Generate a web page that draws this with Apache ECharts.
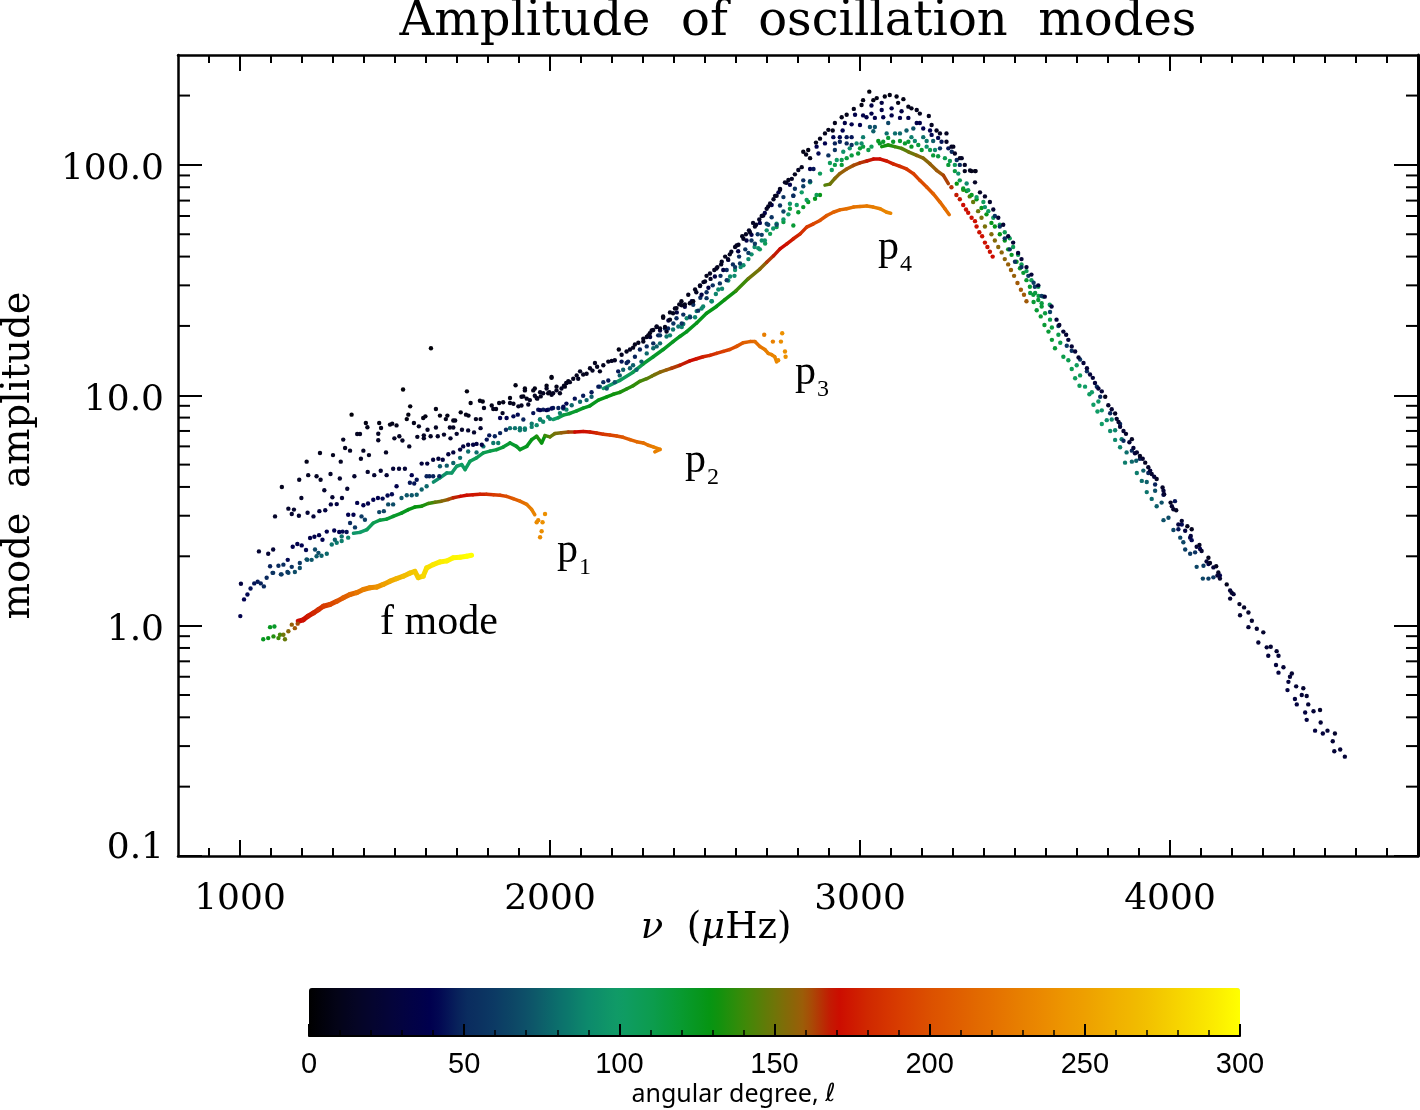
<!DOCTYPE html>
<html><head><meta charset="utf-8">
<style>html,body{margin:0;padding:0;background:#fff}#c{width:1420px;height:1110px}</style>
<script src="https://cdn.jsdelivr.net/npm/echarts@6/dist/echarts.min.js"></script>
</head><body><div id="c"></div>
<script>
// every point is [frequency in microHz, mode amplitude, angular degree]
const xTickLabels=[1000,2000,3000,4000];
const xMinorTicks=[900,1100,1200,1300,1400,1500,1600,1700,1800,1900,2100,2200,2300,2400,2500,2600,2700,2800,2900,3100,3200,3300,3400,3500,3600,3700,3800,3900,4100,4200,4300,4400,4500,4600,4700];
const yTickLabels=[0.1,1,10,100];
const yMinorTicks=[0.2,0.3,0.4,0.5,0.6,0.7,0.8,0.9,2,3,4,5,6,7,8,9,20,30,40,50,60,70,80,90,200];
const degreeColors=['#000000','#04041a','#05052e','#030340','#00004f','#0a2a5e','#0c3a64','#0d5068','#0c6e6c','#0d8a6c','#109c66','#0c9c50','#089a30','#069410','#3c8a08','#6f7508','#a05a08','#cc0a00','#d02800','#d83c00','#dc5000','#e06000','#e47000','#e88000','#ec9000','#eea000','#f0b000','#f2c000','#f6d400','#fae800','#ffff00'];

const fModeDots=[[1075,.873,125],[1091,.883,128],[1097,.985,125],[1111,.992,122],[1108,.898,135],[1124,.883,140],[1129,.913,142],[1145,.873,148],[1140,.913,150],[1156,.945,155],[1167,1.01,158],[1177,.975,160],[1186,1.02,162]];
const fModeRidge=[[1188,1.045,168],[1204,1.06,170],[1220,1.10,172],[1237,1.135,176],[1253,1.174,180],[1269,1.214,185],[1290,1.235,190],[1312,1.275,196],[1333,1.32,202],[1355,1.365,210],[1376,1.39,216],[1398,1.435,224],[1419,1.46,230],[1441,1.47,236],[1462,1.51,242],[1484,1.56,250],[1505,1.60,256],[1527,1.64,262],[1548,1.69,268],[1564,1.72,272],[1575,1.615,274],[1591,1.64,276],[1602,1.78,282],[1623,1.84,286],[1645,1.89,290],[1667,1.91,292],[1688,1.97,294],[1710,1.98,296],[1731,2.00,298],[1747,2.02,300]];
const p1Dots=[[1107,1.695,60],[1134,1.67,62],[1156,1.695,65],[1177,1.71,68],[1193,1.78,68],[1217,1.93,72],[1231,1.93,72],[1247,2.00,74],[1263,2.01,76],[1280,2.05,78],[1296,2.25,82],[1312,2.29,84],[1328,2.33,86],[1349,2.41,88],[1957,2.81,236],[1962,2.87,236],[1984,3.05,240],[1976,2.81,240],[1973,2.57,238],[1968,2.42,236]];
const p1Ridge=[[1366,2.52,92],[1387,2.54,96],[1409,2.61,100],[1430,2.79,106],[1451,2.87,110],[1473,2.90,114],[1494,2.98,118],[1521,3.08,122],[1543,3.19,125],[1564,3.27,128],[1586,3.30,130],[1607,3.39,134],[1629,3.43,140],[1650,3.47,148],[1672,3.53,155],[1688,3.59,162],[1710,3.64,167],[1731,3.68,170],[1752,3.70,172],[1774,3.72,174],[1795,3.72,178],[1817,3.70,184],[1839,3.68,190],[1860,3.64,194],[1881,3.56,200],[1903,3.47,208],[1925,3.36,218],[1941,3.19,226],[1951,3.03,232]];
const p2Ridge=[[1624,4.2,90],[1645,4.38,92],[1667,4.6,94],[1683,4.6,96],[1699,4.92,98],[1715,5.0,100],[1726,4.76,102],[1742,5.17,104],[1763,5.35,106],[1785,5.62,108],[1806,5.72,110],[1828,5.81,112],[1849,5.96,116],[1871,6.21,118],[1892,6.0,120],[1903,5.81,122],[1925,6.0,124],[1941,6.42,126],[1957,6.64,128],[1973,6.21,134],[1984,6.68,130],[2000,6.6,140],[2016,6.82,148],[2037,6.87,152],[2059,6.92,158],[2080,6.92,163],[2107,6.97,170],[2129,6.92,172],[2150,6.86,176],[2172,6.77,182],[2193,6.72,188],[2215,6.66,194],[2236,6.57,200],[2258,6.42,206],[2279,6.29,212],[2301,6.21,216],[2317,6.07,220],[2333,5.97,224],[2355,5.82,230],[2338,5.68,230]];
const p3Ridge=[[2010,7.85,95],[2027,8.0,100],[2043,8.2,110],[2064,8.34,115],[2086,8.55,120],[2107,8.8,122],[2129,9.0,124],[2156,9.53,126],[2183,9.85,128],[2204,10.1,130],[2225,10.3,132],[2247,10.65,134],[2268,11.0,136],[2290,11.5,138],[2312,11.8,142],[2328,12.1,146],[2338,12.3,150],[2355,12.6,152],[2376,12.9,156],[2392,13.1,160],[2419,13.5,164],[2451,14.1,168],[2473,14.4,170],[2494,14.7,174],[2516,14.9,178],[2537,15.2,182],[2559,15.5,188],[2580,15.8,192],[2602,16.3,198],[2623,16.9,204],[2645,17.1,210],[2661,17.1,214],[2677,16.3,220],[2693,15.8,224],[2704,15.2,228],[2715,15.0,230],[2725,14.7,232],[2731,13.95,234]];
const p3Dots=[[2736,14.2,236],[2758,15.5,240],[2760,14.7,240],[2745,17.1,238],[2749,18.6,240],[2719,17.1,230],[2691,18.3,228]];
const p4Ridge=[[2172,10.7,95],[2225,11.6,100],[2268,12.6,105],[2301,13.7,110],[2333,14.7,118],[2365,15.8,122],[2397,17.1,124],[2419,18.0,125],[2441,18.9,126],[2473,20.6,126],[2505,22.7,127],[2537,24.3,128],[2564,26.0,128],[2600,28.4,132],[2640,32.1,140],[2677,35.3,150],[2699,37.8,156],[2721,40.3,164],[2742,43.2,168],[2764,45.4,170],[2785,47.8,174],[2807,50.2,178],[2828,53.7,184],[2850,55.5,190],[2871,57.4,196],[2893,60.3,202],[2914,62.3,208],[2935,63.8,212],[2957,64.5,216],[2979,65.6,220],[3000,66,222],[3022,66.3,224],[3043,65.6,226],[3065,64.5,228],[3086,62.3,232],[3099,61.7,234]];
const p5Dots=[[2677,43,105],[2694,45.6,108],[2710,50.2,110],[2731,53.7,112],[2753,56.5,114],[2774,64.5,116],[2801,62.3,120],[2817,65.6,122],[2833,69,124],[2855,71.3,126],[2871,74,128],[2785,54.6,118]];
const p5Ridge=[[2887,81.7,140],[2903,82.5,145],[2919,87.4,150],[2935,91.7,155],[2957,96,158],[2979,99.5,160],[3000,102,162],[3022,104,165],[3043,106,168],[3065,106,170],[3086,104,172],[3107,101,176],[3129,98.5,180],[3150,96,184],[3172,91.7,188],[3193,85.7,192],[3215,80.2,198],[3236,75,204],[3258,69,212],[3274,64.5,216],[3288,60.8,220]];
const p6Ridge=[[3070,120,130],[3091,122,132],[3112,120,135],[3134,118,140],[3156,114,145],[3183,110,150],[3204,107,155],[3226,101,155],[3247,94.7,158],[3269,90,160],[3285,83,163]];
const p6Dots=[[3295,80,165],[3311,74,168],[3322,71,168],[3333,67,170],[3342,64,172],[3349,62,172],[3360,59,172],[3371,57,172],[3376,54,172],[3385,51,172],[3394,49,172],[3403,46,172],[3411,44,172],[3419,42,172],[3428,40,170]];
const p7Dots=[[3312,82.9,130],[3333,78,138],[3354,73,145],[3365,69,148],[3381,63,150],[3392,59,152],[3403,54,152],[3424,50,154],[3435,47,154],[3446,44,155],[3457,41.7,156],[3467,39,156],[3478,37,158],[3487,35,158],[3497,33,158],[3508,30.7,160],[3519,28.7,160],[3529,27.3,160],[3537,25.6,160]];
const p8Dots=[[3333,79,122],[3344,77,124],[3360,74,124],[3376,71,126],[3392,65,126],[3408,61,128],[3424,56,128],[3435,54,128],[3451,50,128],[3467,47,126],[3478,43,126],[3489,40.7,124],[3505,38,122],[3516,35.6,122],[3527,34,120],[3537,31.6,120],[3548,29.6,120],[3559,27.3,118],[3575,25.9,118],[3586,24.3,118]];
const p9Dots=[[3398,69,105],[3414,63,105],[3430,59,105],[3451,55,108],[3467,51,108],[3483,48,108],[3494,44,108],[3510,40.7,108],[3521,37,108],[3537,34.6,108],[3553,31.6,108],[3575,29.6,108],[3591,26.8,105],[3612,24.7,105]];

const midTeal=[[2387,18.2,88],[2425,19.8,88],[2441,21.6,88],[2468,21.8,88],[2489,23.8,90],[2522,25.6,90],[2543,28.8,90],[2581,32.8,90],[2597,35,92],[2624,36.7,92],[2650,40.9,92],[2672,43.5,92],[2693,47,95],[2720,53,95],[2753,58,98],[2769,61,100],[2796,67,100],[2828,70.5,105],[2860,74,108]];
const tealBand=[[1903,7.05,85],[1919,7.17,88],[1941,7.29,88],[1957,7.42,90],[1978,7.68,90],[1994,8.06,88],[1968,7.85,80],[2097,9.37,78],[2118,9.53,78],[2161,10.9,72],[2183,10.7,74],[2209,11.4,72],[2236,12.9,75],[2258,13.1,75],[2279,12.9,78],[2312,15.2,78],[2333,16.0,78],[2355,16.8,80],[2376,18,82],[2397,19.3,82],[2430,20.4,85],[2451,22,85],[2473,23.2,85],[2494,24.3,88],[2521,25.6,88],[2043,8.76,78],[2070,9.05,78],[2134,9.85,75],[2225,12.2,75],[2268,13.5,75],[2295,14,75],[2344,16.3,75],[2414,19.9,82],[2535,27.5,88],[2555,29,88],[2575,31.5,90],[2595,33,90],[2615,36,90],[2640,39,90],[2660,44,92],[2683,47,92]];
const peakGreen=[[3059,127,125],[3064,124,122],[3075,126,122],[3091,131,118],[3107,126,122],[3129,127,120],[3145,124,122],[3156,126,118],[3166,120,122],[3188,122,115],[3199,116,120],[3226,116,112],[3236,110,118],[3252,109,115],[3274,107,110],[3290,104,110],[3306,100,105],[3285,100,118],[3306,94,115],[3000,118,118],[3010,120,115],[2994,112,118],[3027,116,112],[3037,120,108],[2973,110,115],[2957,107,115],[2941,105,110],[2941,100,118],[2919,100,112],[2903,102,105],[3317,91.7,95],[3344,83,90],[2909,95,105],[2871,91.7,105],[2839,84,100],[2812,76,100],[2774,67.8,95],[2731,55.5,95],[2699,52,95],[3322,85.7,110],[3349,77.7,105],[3376,72.5,100],[3403,65.6,95]];
const peakTeal=[[3032,146,70],[3048,146,70],[3043,140,75],[3091,152,65],[3086,137,80],[3113,137,80],[3129,137,78],[3150,141,75],[3172,144,70],[3166,132,85],[3177,127,90],[3204,132,80],[3215,127,85],[3236,127,75],[3215,120,95],[3242,116,90],[3010,132,85],[2989,124,90],[3005,124,90],[2967,118,92],[2946,114,95],[2925,105,100]];
const tailGreen=[[3549,27.8,115],[3565,27.8,115],[3560,25.4,118],[3576,27,115],[3570,23.4,118],[3586,25.1,115],[3583,22,118],[3597,22.7,115],[3595,20.2,118],[3613,21.3,112],[3608,18.9,118],[3619,19.7,115],[3619,17.4,118],[3640,18.3,112],[3629,16,118],[3646,16.9,112],[3656,14.7,112],[3672,14.2,110],[3683,13,108],[3699,13.5,105],[3694,11.85,105],[3710,12.2,105],[3708,11,105],[3726,10.9,100],[3740,10.1,102],[3748,10.3,100],[3753,9.1,100],[3769,9.4,98],[3766,8.5,100],[3780,8.6,95],[3780,7.5,100],[3796,7.8,92],[3812,7.85,90],[3807,7.0,92],[3823,7.05,88],[3823,6.4,90],[3844,6.45,85],[3839,5.95,88],[3860,5.65,80],[3855,5.1,85],[3877,5.15,78],[3891,5.2,75],[3893,4.6,85],[3914,4.71,75],[3909,4.25,80],[3925,4.2,75],[3925,3.8,82],[3952,3.85,70],[3941,3.55,78],[3957,3.3,75],[3973,3.42,70],[3979,2.87,70],[3995,2.94,68],[4011,2.6,65],[4033,2.41,65],[4043,2.3,65],[4049,2.14,62],[4065,2.05,60],[4081,2.08,55],[4086,1.8,65],[4108,1.82,60],[4106,1.6,65],[4124,1.6,62],[4140,1.62,58]];

const blueLow=[[1001,1.1,38],[1013,1.30,40],[1003,1.52,30],[1024,1.365,42],[1034,1.45,44],[1046,1.525,45],[1057,1.55,46],[1067,1.525,48],[1077,1.48,50],[1086,1.615,50],[1097,1.81,48],[1105,1.695,55],[1124,1.82,52],[1140,1.84,52],[1132,1.67,58],[1154,1.93,42],[1167,1.80,55],[1153,1.71,60],[1193,1.87,58],[1170,2.2,38],[1185,2.26,38],[1199,2.23,40],[1213,2.13,42],[1226,2.40,36],[1240,2.43,36],[1255,2.47,38],[1266,2.36,40],[1280,2.56,38],[1304,2.59,40],[1320,2.55,40],[1331,2.56,42],[1344,2.55,44],[1242,2.14,66],[1253,2.07,68],[1215,1.94,70],[1306,2.36,75],[1328,2.44,80],[1355,2.79,50],[1349,3.03,40],[1366,3.03,40],[1371,2.67,60],[1392,2.98,60],[1403,2.88,62],[1378,3.41,38],[1398,3.33,38],[1413,3.39,38],[1430,3.52,40],[1445,3.58,40],[1460,3.56,42],[1476,3.67,42],[1490,3.72,42],[1505,4.03,38],[1449,3.11,65],[1464,3.14,65],[1478,3.36,68],[1494,3.36,68],[1521,3.58,72],[1538,3.68,72],[1554,3.68,72],[1570,3.70,74],[1586,3.9,76],[1602,4.03,78],[1554,4.5,40],[1548,4.17,45],[1562,4.14,45],[1570,4.3,45],[1602,4.45,48],[1611,4.45,48],[1623,4.45,48],[1643,4.45,50],[1645,4.92,72],[1667,4.95,74],[1688,5.08,76],[1710,5.35,78],[1736,5.7,80],[1763,5.65,80],[1785,6.0,82],[1817,6.21,84],[1833,6.21,86],[1871,7.2,80],[1887,7.2,82],[1903,7.2,82],[1919,7.09,84],[1941,7.53,84],[1968,7.85,86],[2000,7.9,86],[2032,8.37,86],[2053,8.66,88],[1796,6.42,45],[1804,6.7,45],[1822,6.64,48],[1839,6.85,48],[1858,7.09,50],[1839,7.97,40],[1860,7.97,40],[1882,8.10,42],[1896,8.24,42],[1914,7.85,48],[1946,8.37,44],[1962,8.66,44],[1978,8.66,46],[1994,8.66,46],[2010,8.8,46],[2027,8.8,48],[2043,8.8,48]];
const blueMid=[[1968,8.62,40],[1989,8.62,40],[2005,8.76,42],[2043,8.91,42],[2053,9.2,42],[2080,9.67,44],[2107,9.96,46],[2134,10.3,46],[2156,10.9,46],[2188,11.6,46],[2220,12.7,46],[2247,13.8,48],[2274,14.7,48],[2312,16.3,50],[2333,16.8,50],[2371,19.5,50],[2430,22.4,52],[2462,24.7,52],[2172,11.4,50],[2231,14,45],[2252,14,48],[2290,15.8,48],[2349,18.2,48],[2381,19.5,48],[2408,21.6,50],[2485,26.5,50],[2505,28,50],[2525,30,52],[2550,33,52],[2570,35,50],[2590,37,50],[2610,40,52],[2630,43,55],[2650,47,55],[2670,50,58],[2355,18.2,55],[2398,20.5,55],[2425,20.5,55],[2452,21.8,55],[2478,23.3,55],[2505,26.4,55],[2548,30.6,55],[2570,31.6,58],[2597,36,58],[2613,37.3,60],[2640,41.5,60],[2661,45.5,60],[2683,49.7,62],[2704,55,62],[2731,55,68],[2753,62.8,65],[2785,73.5,62],[2817,80.8,62],[2839,84.9,62],[2323,17.9,30],[2355,19.1,30],[2382,21.1,30],[2409,22.9,30],[2435,24.2,30],[2457,25.6,30],[2489,27.3,32],[2511,29.3,32],[2532,32.8,32],[2559,35,32],[2575,38.7,32],[2607,42.2,34],[2634,47,34],[2650,49.7,34],[2677,56,36],[2693,61.8,36],[2715,67,36],[2737,76,36],[2774,82,36]];
const peakBlue=[[3070,186,32],[3037,181,34],[3070,173,34],[3102,176,32],[3134,171,32],[3037,167,36],[3010,164,36],[3021,161,36],[3048,160,38],[3075,161,38],[3102,164,36],[3129,160,38],[3156,160,36],[3183,152,36],[3193,152,36],[3204,144,40],[3226,141,40],[3231,135,42],[3252,131,42],[3263,126,45],[3258,118,55],[3285,118,45],[2984,165,36],[2951,152,36],[2973,150,38],[3000,149,40],[2944,141,40],[2914,132,42],[2935,132,42],[2957,132,45],[2973,132,45],[2919,124,48],[2935,126,48],[2957,124,50],[2973,122,52],[2919,116,55],[3296,114,50],[3312,105,50],[3322,100,50],[2860,120,40],[2866,112,42],[2887,124,40],[2898,110,55],[2839,96,40],[2850,96,45],[2817,85.7,50],[2790,78.8,55],[2785,73.5,50],[2753,72.5,55],[2742,66.7,55],[2715,59.3,55],[2699,55.5,60],[3435,60,55],[3451,54,55],[3467,48,55],[3483,43,55],[3500,38,55],[3521,36,55],[3543,33,58],[3564,29.6,58]];
const tailBlue=[[3560,30.8,60],[3586,27,60],[3613,23,62],[3640,20,60],[3667,16.4,58],[3683,15.6,55],[3710,14.3,58],[3732,12.7,55],[3764,10.9,52],[3775,9.85,50],[3807,8.35,50],[3839,7.5,50],[3850,6.35,50],[3877,5.75,50],[3903,5.3,48],[3930,4.6,48],[3952,4.1,48],[3979,3.7,45],[4016,3.47,45],[4038,2.75,42],[4065,2.41,40],[4097,2.15,38],[4124,1.85,40],[4161,1.65,38],[4027,2.62,45],[4070,2.35,42]];

const darkLow=[[1616,16.0,3],[1526,10.6,4],[1360,8.24,4],[1732,10.4,6],[1889,11.05,8],[2005,12.0,8],[1549,8.95,6],[1543,8.24,6],[1538,7.88,6],[1632,8.72,8],[1406,7.58,8],[1411,7.26,10],[1449,7.58,8],[1455,7.21,10],[1484,7.46,10],[1491,7.53,10],[1505,7.40,10],[1561,7.58,10],[1577,7.33,12],[1591,7.97,8],[1598,8.10,8],[1645,8.16,8],[1669,8.16,8],[1664,7.88,10],[1688,7.77,10],[1694,7.77,12],[1712,8.43,8],[1729,8.24,10],[1737,8.16,10],[1761,7.88,12],[1776,7.88,12],[1744,9.26,8],[1774,9.47,8],[1783,9.40,8],[1787,8.80,12],[1812,9.03,10],[1817,8.72,12],[1826,8.72,12],[1836,9.26,10],[1849,9.33,10],[1847,8.37,15],[1871,9.73,8],[1871,9.26,12],[1882,9.19,12],[1898,8.95,14],[1908,9.03,14],[1914,9.89,10],[1919,10.7,8],[1930,9.12,16],[1951,10.7,8],[1957,9.73,10],[1970,9.89,12],[1989,11.0,8],[1994,10.2,10],[2005,10.05,12],[2021,10.9,10],[2032,10.2,12],[2048,10.9,10],[2053,11.3,10],[2059,11.5,10],[1333,6.42,15],[1378,6.79,15],[1387,6.79,15],[1446,6.81,15],[1446,6.38,15],[1498,6.5,15],[1514,6.64,15],[1524,6.36,15],[1546,6.0,15],[1572,6.6,15],[1593,6.7,15],[1593,6.5,15],[1605,7.09,15],[1615,6.64,15],[1632,7.25,15],[1638,6.64,18],[1658,6.75,18],[1677,7.25,15],[1688,7.25,15],[1679,6.5,20],[1699,6.8,20],[1716,7.09,18],[1736,7.04,20],[1755,6.9,20],[1776,7.2,20],[1258,5.62,12],[1215,5.15,10],[1300,5.5,12],[1325,5.15,15],[1339,5.9,12],[1355,5.75,15],[1398,5.75,15],[1390,5.3,15],[1416,5.5,15],[1471,5.65,15],[1135,4.0,12],[1191,4.3,15],[1220,4.5,15],[1247,4.45,15],[1260,4.3,15],[1292,4.55,18],[1322,4.35,20],[1369,4.45,20],[1412,4.65,20],[1433,4.5,22],[1454,4.7,22],[1473,4.5,24],[1494,4.8,25],[1513,4.8,25],[1532,4.8,25],[1586,5.05,28],[1604,5.05,28],[1623,5.25,28],[1640,5.3,28],[1654,5.25,30],[1672,5.55,30],[1688,5.65,30],[1710,5.81,30],[1720,6.0,30],[1736,6.1,32],[1752,6.1,32],[1763,6.15,32],[1780,6.1,34],[1272,3.87,20],[1346,3.93,22],[1198,3.58,18],[1298,3.61,22],[1329,3.58,24],[1156,3.22,20],[1174,3.19,20],[1167,3.05,20],[1190,3.0,22],[1218,3.09,24],[1237,2.98,26],[1256,3.14,28],[1275,3.17,30],[1293,3.36,30],[1312,3.37,32],[1113,2.98,18],[1061,2.1,22],[1091,2.05,24],[1107,2.14,24]];
const darkMid=[[1919,10.5,12],[1925,9.67,12],[1951,9.96,14],[1968,10.3,14],[1989,10.7,14],[2005,11.9,8],[2021,10.5,14],[2037,10.7,14],[2053,11.3,12],[2064,11.4,12],[2086,12.2,12],[2097,12.7,12],[2118,12.4,12],[2145,13.8,12],[2161,12.7,12],[2188,14.0,12],[2209,14.2,14],[2222,15.8,8],[2247,15.5,12],[2274,16.6,12],[2301,17.1,12],[2322,18.6,10],[2344,19.9,10],[2365,22,10],[2376,18.9,14],[2408,23.9,10],[2424,25.6,10],[2451,25.1,12],[2462,25.6,12],[1908,9.85,12],[1935,9.53,14],[1946,10.5,12],[1959,9.67,14],[1978,10.2,14],[1998,10.3,12],[2010,10.2,14],[2045,11,12],[2075,11.8,12],[2091,11.8,14],[2107,12.3,12],[2129,13.1,12],[2137,12.8,14],[2152,13.3,12],[2172,13.5,12],[2199,14.1,14],[2231,15,14],[2258,15.8,14],[2268,16.1,12],[2285,16.9,12],[2312,17.9,12],[2333,19.2,12],[2355,19.5,12],[2387,21.3,12],[2397,22.7,12],[2417,24.8,12],[2435,24.8,12],[2472,28,14],[2484,30,12],[2495,31,14],[2505,33,12],[2518,32,16],[2530,35,14],[2540,36,12],[2552,37,14],[2565,40,12],[2574,39,16],[2585,42,14],[2597,44,12],[2608,45,14],[2620,49,12],[2632,50,14],[2642,52,16],[2655,56,14],[2665,55,18],[2675,58,16],[2301,17.6,12],[2317,18.2,12],[2328,19.1,12],[2344,19.8,14],[2371,19.8,12],[2365,21.7,10],[2387,22.9,12],[2403,23.8,12],[2425,24.6,12],[2446,27.3,12],[2468,28.8,12],[2484,29.8,14],[2500,31.2,14],[2516,33.8,14],[2537,35.5,14],[2554,38,14],[2580,40.9,14],[2602,44.7,14],[2624,47.8,14],[2645,51,14],[2661,54,14],[2683,60,14],[2704,66,14],[2726,73.4,14],[2742,78.7,14],[2763,83.6,14]];
const peakDark=[[3030,208,5],[3010,191,8],[3005,182,8],[3043,191,8],[3054,195,8],[3080,198,8],[3096,201,8],[3118,198,8],[3123,186,10],[3140,193,8],[3156,179,10],[3166,176,10],[3183,173,12],[3193,167,12],[3222,163,12],[3231,149,14],[3247,141,14],[3258,137,14],[3279,126,16],[3279,137,14],[3295,120,16],[3306,112,16],[3328,107,16],[3338,100,16],[3355,94.5,14],[3373,94,10],[2980,175,10],[2957,165,10],[2941,161,10],[2919,152,10],[2912,141,10],[2898,142,10],[2871,130,10],[2833,116,8],[2817,114,8],[2839,107,10],[2812,97.8,12],[2801,95,14],[2780,87,14],[2758,84,14],[2731,73.5,14],[2721,71,16],[2699,64.5,16],[2688,60.3,18],[2887,137,10],[2858,125,10],[2826,111,10],[2790,91,12],[2769,86,12],[2742,78,14],[2710,68,16],[3301,120,14],[3322,107,16],[3338,94,12],[3360,94,10],[3371,84,16],[3371,94,10],[3387,76,18],[3403,73,18],[3419,69,20],[3430,64,22],[3446,59,24],[3462,55,24],[3478,49,25],[3494,46,25],[3510,41.5,25],[3521,39,25],[3537,36,25],[3553,33.4,26],[3575,30,28],[3596,26.8,28],[3618,24.3,28],[3634,21.3,28]];
const tailDark=[[3656,18.9,24],[3672,17.4,26],[3694,15.5,26],[3721,13.8,26],[3742,12.3,28],[3758,11.3,28],[3769,10.7,28],[3791,9.85,10],[3801,9.05,20],[3823,8.34,15],[3834,7.65,20],[3839,7.3,25],[3858,6.8,18],[3877,6.45,15],[3882,5.9,25],[3887,5.6,28],[3903,5.45,15],[3920,5.1,15],[3930,4.87,20],[3941,4.55,20],[3957,4.33,15],[3976,3.98,18],[3981,3.72,22],[4002,3.42,15],[4011,3.2,20],[4020,3.17,15],[4038,2.85,20],[4056,2.7,12],[4070,2.62,12],[4095,2.24,15],[4102,2.11,20],[4124,1.97,12],[4129,1.87,15],[4149,1.81,12],[4156,1.7,15],[4161,1.6,20],[4183,1.51,12],[4199,1.39,18],[4194,1.31,22],[4224,1.24,18],[4239,1.2,18],[4253,1.14,20],[4226,1.11,22],[4264,1.05,20],[4253,.985,25],[4280,.97,22],[4301,.935,20],[4285,.845,25],[4312,.805,25],[4325,.81,22],[4344,.775,22],[4350,.74,25],[4317,.74,28],[4366,.66,25],[4342,.675,28],[4393,.62,22],[4387,.60,25],[4350,.625,30],[4382,.57,28],[4407,.545,25],[4430,.535,22],[4379,.525,30],[4425,.50,25],[4441,.495,22],[4403,.48,30],[4409,.455,30],[4446,.455,25],[4484,.43,20],[4436,.42,30],[4463,.425,25],[4441,.39,30],[4486,.38,25],[4468,.35,30],[4493,.34,28],[4508,.35,25],[4532,.34,20],[4525,.315,25],[4530,.285,25],[4549,.29,25],[4564,.27,25],[3643,20.2,22],[3665,18.3,24],[3683,16.3,24],[3705,14.6,24],[3732,13.1,26],[3751,11.9,26],[3780,10.4,24],[3812,8.7,22],[3828,7.9,20],[3850,7,22],[3869,6.25,24],[3893,5.65,22],[3912,5.3,22],[3936,4.71,25],[3949,4.43,25],[3979,3.85,25],[4006,3.3,22],[4027,2.75,30],[4049,2.58,30],[4067,2.45,28],[4086,2.2,25],[4118,1.9,25],[4140,1.79,25],[4153,1.65,25],[4194,1.42,25],[4205,1.37,25]];

const dotSets=[p1Dots,p3Dots,p5Dots,p6Dots,p7Dots,p8Dots,p9Dots,fModeDots,tealBand,midTeal,peakGreen,peakTeal,tailGreen,blueLow,blueMid,peakBlue,tailBlue,darkLow,darkMid,peakDark,tailDark];
const ridgeSets=[[fModeRidge,5],[p1Ridge,3.5],[p2Ridge,3.5],[p3Ridge,3.5],[p4Ridge,3.5],[p5Ridge,3.5],[p6Ridge,3.5]];

const ridgeItem=w=>(params,api)=>{
  const i=params.dataIndexInside;
  if(i===0) return null;
  const a=api.coord([api.value(0,i-1),api.value(1,i-1)]);
  const b=api.coord([api.value(0,i),api.value(1,i)]);
  return {type:'line',shape:{x1:a[0],y1:a[1],x2:b[0],y2:b[1]},style:{stroke:api.visual('color'),lineWidth:w,lineCap:'round',fill:null}};
};
const tickLine=(x1,y1,x2,y2)=>({type:'line',shape:{x1,y1,x2,y2},style:{stroke:'#000',lineWidth:2,fill:null}});
const xTickItem=(params,api)=>{
  const v=api.value(0),b=api.coord([v,0.1]),t=api.coord([v,300]);
  return {type:'group',children:[tickLine(b[0],b[1],b[0],b[1]-8),tickLine(t[0],t[1],t[0],t[1]+8)]};
};
const yTickItem=(params,api)=>{
  const v=api.value(1),l=api.coord([800,v]),r=api.coord([4800,v]);
  return {type:'group',children:[tickLine(l[0],l[1],l[0]+12,l[1]),tickLine(r[0],r[1],r[0]-12,r[1])]};
};

const series=[];
ridgeSets.forEach(([d,w])=>series.push({type:'custom',renderItem:ridgeItem(w),data:d,encode:{x:0,y:1},clip:false,silent:true,z:3}));
dotSets.forEach(d=>series.push({type:'scatter',data:d,encode:{x:0,y:1},symbolSize:4.4,clip:false,silent:true,z:3,itemStyle:{opacity:1}}));
const coloured=series.map((_,i)=>i);
series.push({type:'custom',renderItem:xTickItem,data:xMinorTicks.map(v=>[v,1]),encode:{x:0,y:1},clip:false,silent:true,z:5});
series.push({type:'custom',renderItem:yTickItem,data:yMinorTicks.map(v=>[1000,v]),encode:{x:0,y:1},clip:false,silent:true,z:5});

const serif='"DejaVu Serif"';
const frameLine=w=>({show:true,onZero:false,lineStyle:{color:'#000',width:w}});
const majorX={show:true,inside:true,length:16,customValues:xTickLabels,lineStyle:{color:'#000',width:2}};
const majorY={show:true,inside:true,length:24,customValues:yTickLabels,lineStyle:{color:'#000',width:2}};
const subRich={a:{fontFamily:'"Liberation Serif"',fontSize:42,lineHeight:42,verticalAlign:'top'},s:{fontFamily:'"Liberation Serif"',fontSize:24,lineHeight:24,verticalAlign:'top',padding:[26,0,0,1]}};
const note=(text,x,y)=>({type:'text',x,y,silent:true,z:20,style:{text,rich:subRich,fill:'#000'}});

echarts.init(document.getElementById('c'),null,{renderer:'canvas',width:1420,height:1110}).setOption({
  animation:false,
  backgroundColor:'#fff',
  title:{text:'Amplitude  of  oscillation  modes',left:798,textAlign:'center',top:-1,padding:0,textStyle:{fontFamily:serif,fontSize:48,fontWeight:'normal',color:'#000'}},
  grid:[{left:178,top:55,width:1240,height:801,outerBoundsMode:'none'},{left:309,top:988,width:931,height:48,outerBoundsMode:'none'}],
  xAxis:[
    {type:'value',gridIndex:0,position:'bottom',min:800,max:4800,axisLine:frameLine(2.5),axisTick:majorX,splitLine:{show:false},
     axisLabel:{customValues:xTickLabels,margin:26,fontFamily:serif,fontSize:36,color:'#000',formatter:v=>String(v)},
     name:'{n|ν}  ({n|μ}Hz)',nameLocation:'middle',nameGap:54,nameMoveOverlap:false,nameTextStyle:{fontFamily:serif,fontSize:37,color:'#000',padding:[0,164,0,0],rich:{n:{fontFamily:serif,fontSize:37,fontStyle:'italic'}}}},
    {type:'value',gridIndex:0,position:'top',min:800,max:4800,axisLine:frameLine(2.5),axisTick:majorX,axisLabel:{show:false},splitLine:{show:false}},
    {type:'value',gridIndex:1,position:'bottom',min:0,max:300,interval:50,z:10,axisLine:{show:true,onZero:false,lineStyle:{color:'#000',width:2}},
     axisTick:{show:true,inside:true,length:12,lineStyle:{color:'#000',width:2}},minorTick:{show:true,splitNumber:5,length:6,lineStyle:{color:'#000',width:1.5}},splitLine:{show:false},
     axisLabel:{margin:14,fontFamily:'"Liberation Sans"',fontSize:29,color:'#000',hideOverlap:false},
     name:'angular degree, {l|ℓ}',nameLocation:'middle',nameGap:46,nameMoveOverlap:false,nameTextStyle:{fontFamily:'"Noto Sans"',fontSize:25,color:'#000',padding:[0,82,0,0],rich:{l:{fontFamily:'"DejaVu Sans"',fontSize:25,fontStyle:'italic'}}}}
  ],
  yAxis:[
    {type:'log',logBase:10,gridIndex:0,position:'left',min:0.1,max:300,axisLine:frameLine(2.5),axisTick:majorY,splitLine:{show:false},
     axisLabel:{customValues:yTickLabels,margin:14,color:'#000',hideOverlap:false,
       formatter:v=>(Number(v)<0.5?'{m|':'{v|')+Number(v).toFixed(1)+'}',
       rich:{v:{fontFamily:serif,fontSize:36,padding:[10,0,0,0]},m:{fontFamily:serif,fontSize:36,padding:[0,0,14,0]}}},
     name:'mode  amplitude',nameLocation:'middle',nameGap:140,nameMoveOverlap:false,nameTextStyle:{fontFamily:serif,fontSize:38.5,color:'#000'}},
    {type:'log',logBase:10,gridIndex:0,position:'right',min:0.1,max:300,axisLine:frameLine(3),axisTick:majorY,axisLabel:{show:false},splitLine:{show:false}},
    {type:'value',gridIndex:1,min:0,max:1,show:false}
  ],
  visualMap:{type:'continuous',dimension:2,min:0,max:300,seriesIndex:coloured,orient:'horizontal',left:309,top:988,itemWidth:48,itemHeight:931,padding:0,text:null,calculable:false,realtime:false,hoverLink:false,showLabel:false,z:1,inRange:{color:degreeColors}},
  graphic:[note('{a|f mode}',380,602),note('{a|p}{s|1}',557,530),note('{a|p}{s|2}',685,440),note('{a|p}{s|3}',795,352),note('{a|p}{s|4}',878,227)],
  series
});
</script></body></html>
